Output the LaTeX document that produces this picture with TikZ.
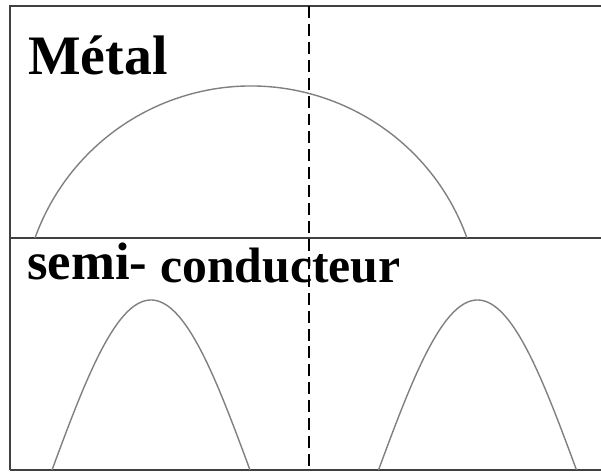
\documentclass[tikz,border=0pt]{standalone}
\usepackage{fontspec}
\setmainfont{Liberation Serif}
\usepackage{tikz}
\usetikzlibrary{positioning}

\begin{document}
\begin{tikzpicture}[x=0.02cm,y=0.02cm,
    frameline/.style={draw=black!75,line width=1.5pt},
    bandcurve/.style={draw=black!50,line width=0.8pt},
    fermiline/.style={draw=black,line width=1.4pt,dash pattern=on 6.8pt off 3.4pt},
    label/.style={font=\bfseries,inner sep=0pt}]
  \useasboundingbox (0,0) rectangle (601,472);
  % frame
  \coordinate (tl) at (10,466);
  \coordinate (ml) at (10,234);
  \coordinate (bl) at (10,2);
  \draw[frameline] (bl) -- (tl) -- (601,466);
  \draw[frameline] (ml) -- (601,234);
  \draw[frameline] (bl) -- (601,2);
  % bands
  \draw[bandcurve] (467,234) arc[start angle=19.74,end angle=160.26,radius=229.5];
  \draw[bandcurve] plot[domain=-99:99,samples=80,smooth] ({151+\x},{2+170*cos(90*\x/99)});
  \draw[bandcurve] plot[domain=-99:99,samples=80,smooth] ({477.5+\x},{2+170*cos(90*\x/99)});
  % dashed line
  \coordinate (ftop) at (309,466);
  \coordinate (fbot) at (309,2);
  \draw[fermiline] (ftop) -- (fbot);
  % labels
  \node[label,font=\fontsize{31.7}{34}\bfseries,anchor=base west] (metal) at (28,397) {Métal};
  \node[label,font=\fontsize{30}{32}\bfseries,anchor=base west] (semi) at (27,192) {semi-};
  \node[label,font=\fontsize{28.3}{30}\bfseries,anchor=base west] (conduct) at (160,189) {conducteur};
\end{tikzpicture}
\end{document}
